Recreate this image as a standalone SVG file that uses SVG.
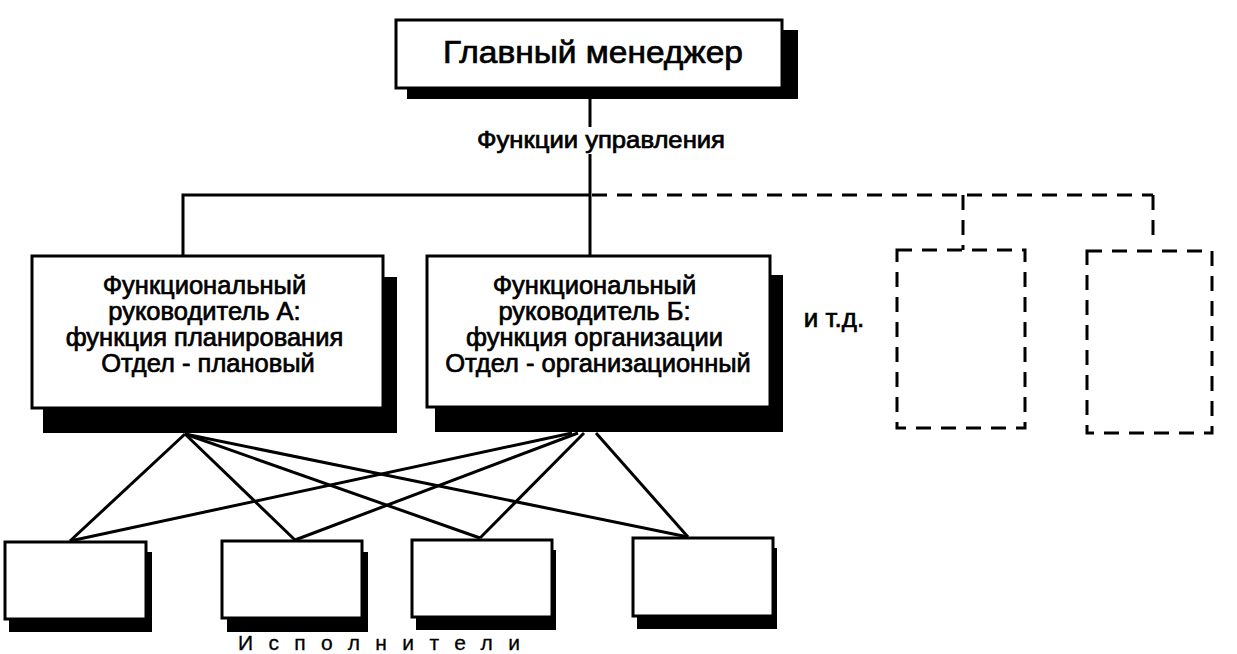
<svg xmlns="http://www.w3.org/2000/svg" width="1237" height="654" viewBox="0 0 1237 654">
<style>
.box{fill:#fff;stroke:#000;stroke-width:3}
.sh{fill:#000}
.dbox{fill:none;stroke:#000;stroke-width:3;stroke-dasharray:15 10}
.ln{fill:none;stroke:#000;stroke-width:3}
.dl{fill:none;stroke:#000;stroke-width:3;stroke-dasharray:15 10}
.t{font-family:"Liberation Sans",Arial,sans-serif;fill:#000;stroke:#000;stroke-width:0.7;text-anchor:middle}
</style>
<rect width="1237" height="654" fill="#fff"/>
<g id="connectors">
<line class="ln" x1="590" y1="99" x2="590" y2="127"/>
<line class="ln" x1="590" y1="154" x2="590" y2="256"/>
<polyline class="ln" points="183,256 183,195 590,195"/>
<line class="dl" x1="592" y1="195" x2="1153" y2="195"/>
<line class="dl" x1="1153" y1="195" x2="1153" y2="235"/>
<line class="dl" x1="963" y1="195" x2="963" y2="250"/>
<line class="ln" x1="185" y1="434" x2="70" y2="541"/>
<line class="ln" x1="185" y1="434" x2="295" y2="540"/>
<line class="ln" x1="185" y1="434" x2="480" y2="538"/>
<line class="ln" x1="185" y1="434" x2="688" y2="537"/>
<line class="ln" x1="572" y1="433" x2="70" y2="541"/>
<line class="ln" x1="578" y1="433" x2="295" y2="540"/>
<line class="ln" x1="584" y1="433" x2="480" y2="538"/>
<line class="ln" x1="596" y1="433" x2="688" y2="537"/>
</g>
<g id="manager">
<rect class="sh" x="407" y="30" width="391" height="69"/>
<rect class="box" x="396" y="20" width="386" height="68"/>
<text class="t" x="593" y="63" font-size="31" textLength="300" lengthAdjust="spacingAndGlyphs">Главный менеджер</text>
</g>
<text id="functions-label" class="t" x="601" y="148" font-size="23" textLength="248" lengthAdjust="spacingAndGlyphs">Функции управления</text>
<g id="head-a">
<rect class="sh" x="43" y="277" width="354" height="156"/>
<rect class="box" x="32" y="256" width="351" height="152"/>
<text class="t" font-size="25.5">
<tspan x="208" y="294">Функциональный</tspan>
<tspan x="208" y="320">руководитель А:</tspan>
<tspan x="208" y="346">функция планирования</tspan>
<tspan x="208" y="372">Отдел - плановый</tspan>
</text>
</g>
<g id="head-b">
<rect class="sh" x="435" y="275" width="348" height="157"/>
<rect class="box" x="427" y="256" width="343" height="151"/>
<text class="t" font-size="25.5">
<tspan x="598" y="294">Функциональный</tspan>
<tspan x="598" y="320">руководитель Б:</tspan>
<tspan x="598" y="346">функция  организации</tspan>
<tspan x="598" y="372">Отдел - организационный</tspan>
</text>
</g>
<text id="etc" class="t" x="834" y="327" font-size="26">и т.д.</text>
<g id="future-1">
<rect class="dbox" x="897" y="250" width="128" height="178"/>
</g>
<g id="future-2">
<rect class="dbox" x="1087" y="251" width="125" height="182"/>
</g>
<g id="worker-1">
<rect class="sh" x="9" y="552" width="143" height="80"/>
<rect class="box" x="5" y="542" width="141" height="77"/>
</g>
<g id="worker-2">
<rect class="sh" x="227" y="552" width="141" height="80"/>
<rect class="box" x="222" y="541" width="140" height="77"/>
</g>
<g id="worker-3">
<rect class="sh" x="416" y="550" width="140" height="80"/>
<rect class="box" x="412" y="540" width="140" height="77"/>
</g>
<g id="worker-4">
<rect class="sh" x="637" y="548" width="140" height="81"/>
<rect class="box" x="633" y="538" width="140" height="78"/>
</g>
<text id="workers-label" class="t" x="379" y="650" font-size="21" textLength="282" lengthAdjust="spacing" style="stroke-width:0.3">Исполнители</text>
</svg>
